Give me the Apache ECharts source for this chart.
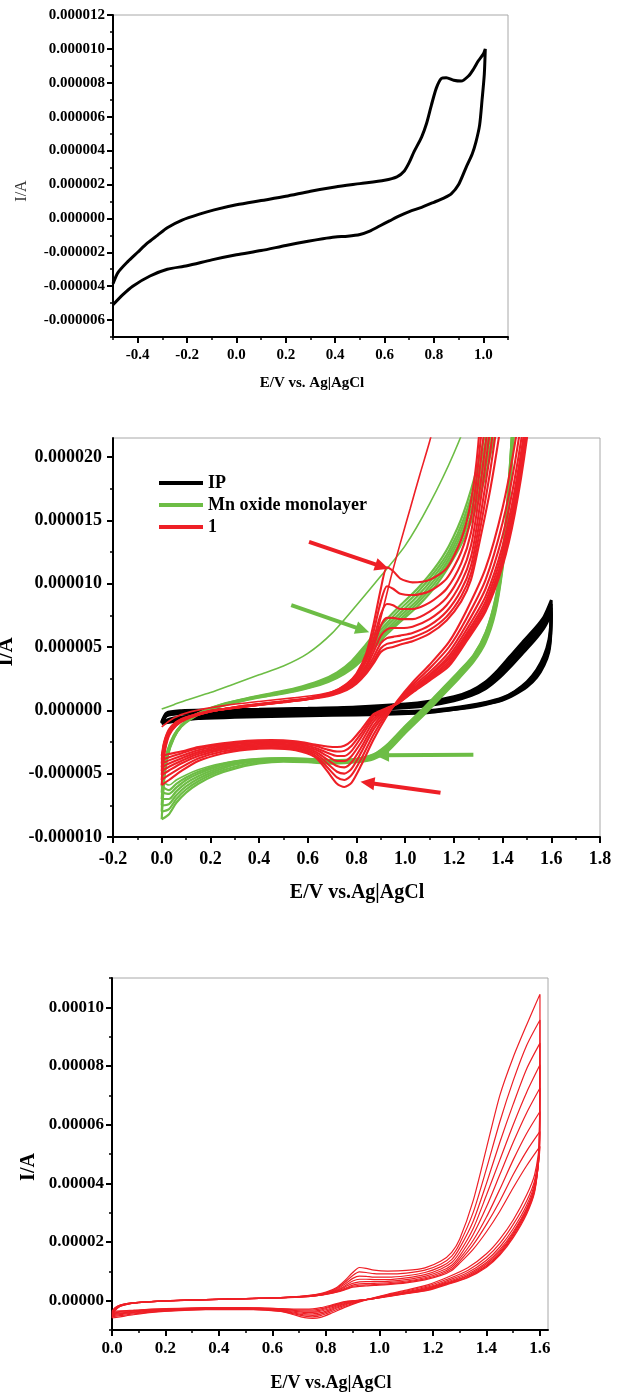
<!DOCTYPE html>
<html>
<head>
<meta charset="utf-8">
<script src="https://cdn.jsdelivr.net/npm/echarts@6/dist/echarts.min.js"></script>
<style>
html,body{margin:0;padding:0;background:#fff;}
#chart{width:619px;height:1392px;}
</style>
</head>
<body>
<div id="chart"></div>
<script>
// ---------- DATA (E in V, I in microampere; converted to A when plotted) ----------
// Panel 1: single CV
const cv1 = [[-0.5,-3.86],[-0.48,-3.2],[-0.44,-2.55],[-0.40,-2.0],[-0.36,-1.45],[-0.32,-1.0],[-0.28,-0.55],[-0.22,-0.1],[-0.15,0.25],[-0.09,0.5],[0.0,0.8],[0.1,1.05],[0.2,1.3],[0.3,1.6],[0.4,1.85],[0.5,2.05],[0.6,2.25],[0.65,2.45],[0.68,2.8],[0.70,3.3],[0.72,3.95],[0.75,4.8],[0.77,5.6],[0.79,6.7],[0.81,7.7],[0.83,8.25],[0.85,8.3],[0.88,8.15],[0.91,8.1],[0.94,8.4],[0.96,8.8],[0.98,9.3],[1.0,9.7],[1.008,10.0],
[1.004,8.5],[0.995,7.0],[0.985,5.5],[0.97,4.5],[0.955,3.8],[0.93,3.0],[0.90,2.0],[0.87,1.45],[0.84,1.2],[0.80,0.95],[0.75,0.65],[0.70,0.4],[0.66,0.15],[0.62,-0.15],[0.58,-0.45],[0.54,-0.75],[0.50,-0.95],[0.45,-1.05],[0.40,-1.1],[0.35,-1.2],[0.29,-1.35],[0.2,-1.6],[0.1,-1.9],[0.0,-2.15],[-0.1,-2.45],[-0.2,-2.8],[-0.28,-3.0],[-0.35,-3.4],[-0.42,-4.0],[-0.46,-4.5],[-0.5,-5.1]];

// Panel 2: IP (black) cycles
const ip0 = [[0,-0.9],[0.02,-0.2],[0.08,-0.02],[0.2,0.04],[0.4,0.1],[0.6,0.17],[0.8,0.28],[1.0,0.5],[1.1,0.72],[1.2,1.08],[1.27,1.55],[1.33,2.25],[1.38,3.15],[1.43,4.25],[1.48,5.35],[1.53,6.4],[1.57,7.4],[1.6,8.7],[1.598,7.0],[1.59,5.6],[1.57,4.3],[1.54,3.2],[1.5,2.25],[1.45,1.5],[1.4,1.0],[1.33,0.62],[1.25,0.35],[1.1,0.0],[0.9,-0.12],[0.7,-0.18],[0.5,-0.24],[0.3,-0.32],[0.15,-0.42],[0.05,-0.6],[0,-0.9]];
const ip1 = [[0,-0.95],[0.02,-0.28],[0.08,-0.1],[0.2,-0.03],[0.4,0.03],[0.6,0.1],[0.8,0.21],[1.0,0.43],[1.1,0.64],[1.2,1.0],[1.27,1.45],[1.33,2.1],[1.38,2.95],[1.43,4.0],[1.48,5.1],[1.53,6.15],[1.57,7.15],[1.6,8.4],[1.598,6.7],[1.59,5.3],[1.57,4.1],[1.54,3.05],[1.5,2.15],[1.45,1.45],[1.4,0.95],[1.33,0.58],[1.25,0.3],[1.1,-0.06],[0.9,-0.19],[0.7,-0.26],[0.5,-0.32],[0.3,-0.4],[0.15,-0.5],[0.05,-0.7],[0,-0.95]];
const ip2 = [[0,-1.0],[0.02,-0.36],[0.08,-0.18],[0.2,-0.1],[0.4,-0.04],[0.6,0.03],[0.8,0.14],[1.0,0.36],[1.1,0.56],[1.2,0.92],[1.27,1.35],[1.33,1.95],[1.38,2.75],[1.43,3.75],[1.48,4.85],[1.53,5.9],[1.57,6.9],[1.6,8.1],[1.598,6.4],[1.59,5.0],[1.57,3.9],[1.54,2.9],[1.5,2.05],[1.45,1.4],[1.4,0.9],[1.33,0.54],[1.25,0.26],[1.1,-0.12],[0.9,-0.26],[0.7,-0.33],[0.5,-0.4],[0.3,-0.48],[0.15,-0.58],[0.05,-0.8],[0,-1.0]];
const ip3 = [[0,-1.05],[0.02,-0.44],[0.08,-0.26],[0.2,-0.17],[0.4,-0.11],[0.6,-0.04],[0.8,0.07],[1.0,0.29],[1.1,0.48],[1.2,0.85],[1.27,1.25],[1.33,1.8],[1.38,2.55],[1.43,3.5],[1.48,4.6],[1.53,5.65],[1.57,6.65],[1.6,7.8],[1.598,6.1],[1.59,4.8],[1.57,3.7],[1.54,2.75],[1.5,1.95],[1.45,1.35],[1.4,0.85],[1.33,0.5],[1.25,0.22],[1.1,-0.18],[0.9,-0.33],[0.7,-0.4],[0.5,-0.48],[0.3,-0.56],[0.15,-0.66],[0.05,-0.9],[0,-1.05]];
const ip4 = [[0,-0.98],[0.02,-0.4],[0.08,-0.26],[0.2,-0.2],[0.4,-0.16],[0.6,-0.1],[0.8,0.0],[1.0,0.2],[1.1,0.38],[1.2,0.75],[1.27,1.15],[1.33,1.7],[1.38,2.45],[1.43,3.4],[1.48,4.45],[1.53,5.5],[1.57,6.5],[1.6,7.6],[1.598,5.9],[1.59,4.6],[1.57,3.55],[1.54,2.6],[1.5,1.85],[1.45,1.25],[1.4,0.8],[1.33,0.46],[1.25,0.18],[1.1,-0.1],[0.9,-0.2],[0.7,-0.24],[0.5,-0.27],[0.3,-0.32],[0.15,-0.42],[0.05,-0.65],[0,-0.98]];

// Panel 2: Mn oxide monolayer (green) cycles
const mn0 = [[0,0.1],[0.05,0.45],[0.1,0.8],[0.2,1.4],[0.3,2.1],[0.4,2.8],[0.5,3.5],[0.6,4.5],[0.7,6.1],[0.8,8.3],[0.9,10.6],[1.0,13.0],[1.1,16.3],[1.2,20.3],[1.25,23],[1.3,40],[1.46,40],[1.44,23],[1.42,17],[1.4,12.6],[1.37,8.9],[1.33,6.2],[1.28,4.4],[1.22,3.1],[1.15,1.7],[1.08,0.3],[1.0,-1.2],[0.93,-2.6],[0.87,-3.45],[0.8,-3.8],[0.7,-3.9],[0.6,-3.8],[0.5,-3.75],[0.4,-3.8],[0.3,-4.0],[0.22,-4.3],[0.15,-4.7],[0.1,-5.1],[0.06,-5.5],[0.03,-5.9],[0,-5.6]];
const mn1 = [[0,-6.0],[0.01,-4.4],[0.025,-3.1],[0.05,-1.95],[0.08,-1.18],[0.12,-0.55],[0.18,0.02],[0.25,0.5],[0.35,0.95],[0.45,1.35],[0.55,1.75],[0.65,2.35],[0.72,3.0],[0.78,3.9],[0.83,5.0],[0.88,6.2],[0.93,7.3],[0.98,8.3],[1.05,9.6],[1.12,11.2],[1.18,13.0],[1.24,15.6],[1.3,19.5],[1.35,24],[1.4,30],[1.43,40],[1.46,32],[1.44,22.5],[1.42,16.5],[1.4,12.3],[1.37,8.7],[1.33,6.1],[1.28,4.3],[1.22,3.0],[1.15,1.6],[1.08,0.2],[1.0,-1.3],[0.93,-2.7],[0.87,-3.5],[0.8,-3.85],[0.7,-3.95],[0.6,-3.85],[0.5,-3.8],[0.4,-3.85],[0.3,-4.05],[0.22,-4.4],[0.15,-4.85],[0.1,-5.3],[0.06,-5.8],[0.03,-6.3],[0,-6.0]];
const mn2 = [[0,-6.5],[0.01,-4.6],[0.025,-3.2],[0.05,-2.0],[0.08,-1.2],[0.12,-0.57],[0.18,0.0],[0.25,0.47],[0.35,0.92],[0.45,1.3],[0.55,1.7],[0.65,2.28],[0.72,2.9],[0.78,3.75],[0.83,4.8],[0.88,5.95],[0.93,7.0],[0.98,8.0],[1.05,9.3],[1.12,10.9],[1.18,12.6],[1.24,15.1],[1.3,18.8],[1.35,23],[1.4,29],[1.43,40],[1.46,31],[1.44,22],[1.42,16.2],[1.4,12.0],[1.37,8.5],[1.33,5.95],[1.28,4.2],[1.22,2.9],[1.15,1.5],[1.08,0.1],[1.0,-1.4],[0.93,-2.8],[0.87,-3.6],[0.8,-3.9],[0.7,-4.0],[0.6,-3.9],[0.5,-3.85],[0.4,-3.9],[0.3,-4.1],[0.22,-4.5],[0.15,-5.0],[0.1,-5.5],[0.06,-6.1],[0.03,-6.6],[0,-6.5]];
const mn3 = [[0,-7.0],[0.01,-4.8],[0.025,-3.3],[0.05,-2.05],[0.08,-1.22],[0.12,-0.6],[0.18,-0.02],[0.25,0.44],[0.35,0.9],[0.45,1.27],[0.55,1.65],[0.65,2.2],[0.72,2.8],[0.78,3.6],[0.83,4.6],[0.88,5.7],[0.93,6.75],[0.98,7.7],[1.05,9.0],[1.12,10.6],[1.18,12.3],[1.24,14.7],[1.3,18.2],[1.35,22.3],[1.4,28],[1.43,40],[1.46,30],[1.44,21.5],[1.42,15.9],[1.4,11.8],[1.37,8.3],[1.33,5.8],[1.28,4.1],[1.22,2.8],[1.15,1.4],[1.08,0.0],[1.0,-1.5],[0.93,-2.9],[0.87,-3.7],[0.8,-3.95],[0.7,-4.05],[0.6,-3.95],[0.5,-3.9],[0.4,-3.95],[0.3,-4.2],[0.22,-4.65],[0.15,-5.2],[0.1,-5.75],[0.06,-6.4],[0.03,-7.0],[0,-7.0]];
const mn4 = [[0,-7.5],[0.01,-5.0],[0.025,-3.4],[0.05,-2.1],[0.08,-1.25],[0.12,-0.62],[0.18,-0.04],[0.25,0.41],[0.35,0.88],[0.45,1.24],[0.55,1.6],[0.65,2.13],[0.72,2.7],[0.78,3.45],[0.83,4.4],[0.88,5.5],[0.93,6.5],[0.98,7.45],[1.05,8.7],[1.12,10.3],[1.18,12.0],[1.24,14.3],[1.3,17.6],[1.35,21.6],[1.4,27],[1.43,40],[1.46,29],[1.44,21],[1.42,15.6],[1.4,11.6],[1.37,8.1],[1.33,5.65],[1.28,4.0],[1.22,2.7],[1.15,1.3],[1.08,-0.1],[1.0,-1.6],[0.93,-3.0],[0.87,-3.75],[0.8,-4.0],[0.7,-4.1],[0.6,-4.0],[0.5,-3.95],[0.4,-4.0],[0.3,-4.3],[0.22,-4.8],[0.15,-5.4],[0.1,-6.0],[0.06,-6.7],[0.03,-7.4],[0,-7.5]];
const mn5 = [[0,-8.0],[0.01,-5.3],[0.025,-3.5],[0.05,-2.15],[0.08,-1.28],[0.12,-0.65],[0.18,-0.06],[0.25,0.38],[0.35,0.85],[0.45,1.2],[0.55,1.56],[0.65,2.07],[0.72,2.62],[0.78,3.35],[0.83,4.25],[0.88,5.3],[0.93,6.3],[0.98,7.2],[1.05,8.45],[1.12,10.0],[1.18,11.7],[1.24,13.9],[1.3,17.0],[1.35,20.9],[1.4,26],[1.43,40],[1.46,28],[1.44,20.5],[1.42,15.3],[1.4,11.4],[1.37,7.9],[1.33,5.5],[1.28,3.9],[1.22,2.6],[1.15,1.2],[1.08,-0.2],[1.0,-1.7],[0.93,-3.1],[0.87,-3.8],[0.8,-4.05],[0.7,-4.15],[0.6,-4.05],[0.5,-4.0],[0.4,-4.1],[0.3,-4.45],[0.22,-4.95],[0.15,-5.6],[0.1,-6.25],[0.06,-7.0],[0.03,-7.8],[0,-8.0]];
const mn6 = [[0,-8.6],[0.01,-5.6],[0.025,-3.6],[0.05,-2.2],[0.08,-1.3],[0.12,-0.68],[0.18,-0.08],[0.25,0.35],[0.35,0.82],[0.45,1.17],[0.55,1.52],[0.65,2.0],[0.72,2.55],[0.78,3.25],[0.83,4.1],[0.88,5.1],[0.93,6.1],[0.98,7.0],[1.05,8.2],[1.12,9.7],[1.18,11.4],[1.24,13.5],[1.3,16.5],[1.35,20.2],[1.4,25],[1.43,40],[1.46,27],[1.44,20],[1.42,15],[1.4,11.2],[1.37,7.7],[1.33,5.35],[1.28,3.8],[1.22,2.5],[1.15,1.1],[1.08,-0.3],[1.0,-1.8],[0.93,-3.2],[0.87,-3.85],[0.8,-4.1],[0.7,-4.2],[0.6,-4.1],[0.5,-4.05],[0.4,-4.2],[0.3,-4.6],[0.22,-5.1],[0.15,-5.8],[0.1,-6.5],[0.06,-7.3],[0.03,-8.2],[0,-8.6]];

// Compound 1 (red): first anodic scan (panel 2) and repeated cycles (panels 2 and 3)
const c1scan = [[0,-1.3],[0.05,-0.6],[0.12,-0.1],[0.25,0.35],[0.4,0.7],[0.55,1.0],[0.65,1.25],[0.72,1.6],[0.78,2.4],[0.83,3.6],[0.87,5.2],[0.9,7.3],[0.94,10.4],[0.98,13.2],[1.02,15.9],[1.06,18.6],[1.1,21.2],[1.13,23.5]];
const c1a = [[0,-5.9],[0.01,-3.6],[0.03,-2.0],[0.06,-1.2],[0.1,-0.7],[0.2,-0.1],[0.3,0.25],[0.4,0.5],[0.5,0.72],[0.6,0.95],[0.7,1.45],[0.76,2.1],[0.8,2.9],[0.84,4.5],[0.87,6.8],[0.9,9.6],[0.925,11.3],[0.95,11.0],[0.98,10.4],[1.03,10.1],[1.1,10.3],[1.17,11.2],[1.23,13.5],[1.27,16.5],[1.3,21.0],[1.35,34],[1.4,52],[1.45,70],[1.5,83],[1.55,94],[1.6,104.5],[1.597,54],[1.58,43],[1.55,36],[1.5,27.5],[1.45,21],[1.4,16],[1.33,11.2],[1.25,7.8],[1.18,5.4],[1.1,3.6],[1.03,2.2],[0.97,0.8],[0.92,-0.6],[0.87,-2.3],[0.82,-4.3],[0.78,-5.7],[0.75,-6.05],[0.72,-5.8],[0.68,-4.8],[0.63,-3.7],[0.55,-3.15],[0.45,-3.0],[0.35,-3.1],[0.25,-3.4],[0.15,-4.0],[0.08,-4.8],[0.03,-5.5],[0,-5.9]];
const c1b = [[0,-5.5],[0.01,-3.4],[0.03,-1.9],[0.06,-1.15],[0.1,-0.68],[0.2,-0.1],[0.3,0.24],[0.4,0.49],[0.5,0.7],[0.6,0.93],[0.7,1.4],[0.76,2.0],[0.8,2.7],[0.84,4.2],[0.87,6.2],[0.9,8.6],[0.925,9.8],[0.95,9.6],[0.98,9.2],[1.03,9.1],[1.1,9.4],[1.17,10.4],[1.23,12.5],[1.27,15.2],[1.3,19.5],[1.35,30],[1.4,45],[1.45,61],[1.5,75],[1.55,87],[1.6,95.7],[1.597,53],[1.58,41],[1.55,34],[1.5,26],[1.45,19.5],[1.4,14.8],[1.33,10.3],[1.25,7.2],[1.18,5.0],[1.1,3.3],[1.03,2.0],[0.97,0.75],[0.92,-0.4],[0.87,-1.9],[0.82,-3.8],[0.78,-5.1],[0.75,-5.5],[0.72,-5.3],[0.68,-4.5],[0.63,-3.55],[0.55,-3.05],[0.45,-2.9],[0.35,-3.0],[0.25,-3.25],[0.15,-3.8],[0.08,-4.5],[0.03,-5.1],[0,-5.5]];
const c1c = [[0,-5.1],[0.01,-3.2],[0.03,-1.8],[0.06,-1.1],[0.1,-0.65],[0.2,-0.09],[0.3,0.23],[0.4,0.47],[0.5,0.69],[0.6,0.92],[0.7,1.35],[0.76,1.9],[0.8,2.6],[0.84,3.9],[0.87,5.6],[0.9,7.6],[0.925,8.4],[0.95,8.3],[0.98,8.0],[1.03,8.0],[1.1,8.5],[1.17,9.6],[1.23,11.6],[1.27,14.0],[1.3,18.0],[1.35,27],[1.4,40],[1.45,54],[1.5,67],[1.55,79],[1.6,87.8],[1.597,52],[1.58,40],[1.55,32.5],[1.5,24.5],[1.45,18.3],[1.4,13.8],[1.33,9.6],[1.25,6.7],[1.18,4.6],[1.1,3.0],[1.03,1.85],[0.97,0.7],[0.92,-0.25],[0.87,-1.5],[0.82,-3.3],[0.78,-4.6],[0.75,-5.0],[0.72,-4.85],[0.68,-4.2],[0.63,-3.4],[0.55,-2.95],[0.45,-2.8],[0.35,-2.9],[0.25,-3.1],[0.15,-3.6],[0.08,-4.2],[0.03,-4.75],[0,-5.1]];
const c1d = [[0,-4.8],[0.01,-3.0],[0.03,-1.8],[0.06,-1.05],[0.1,-0.62],[0.2,-0.08],[0.3,0.22],[0.4,0.46],[0.5,0.68],[0.6,0.91],[0.7,1.3],[0.76,1.8],[0.8,2.45],[0.84,3.6],[0.87,5.0],[0.9,6.7],[0.925,7.3],[0.95,7.3],[0.98,7.2],[1.03,7.2],[1.1,7.8],[1.17,8.9],[1.23,10.8],[1.27,13.0],[1.3,16.5],[1.35,24.5],[1.4,36],[1.45,48],[1.5,60],[1.55,71],[1.6,80.4],[1.597,51],[1.58,39],[1.55,31.5],[1.5,23.5],[1.45,17.4],[1.4,13.0],[1.33,9.0],[1.25,6.3],[1.18,4.3],[1.1,2.8],[1.03,1.7],[0.97,0.65],[0.92,-0.1],[0.87,-1.2],[0.82,-2.9],[0.78,-4.1],[0.75,-4.5],[0.72,-4.4],[0.68,-3.9],[0.63,-3.25],[0.55,-2.85],[0.45,-2.7],[0.35,-2.8],[0.25,-3.0],[0.15,-3.45],[0.08,-4.0],[0.03,-4.45],[0,-4.8]];
const c1e = [[0,-4.5],[0.01,-2.9],[0.03,-1.7],[0.06,-1.0],[0.1,-0.6],[0.2,-0.07],[0.3,0.21],[0.4,0.45],[0.5,0.67],[0.6,0.9],[0.7,1.3],[0.76,1.75],[0.8,2.35],[0.84,3.4],[0.87,4.6],[0.9,5.9],[0.925,6.4],[0.95,6.5],[0.98,6.5],[1.03,6.6],[1.1,7.2],[1.17,8.3],[1.23,10.1],[1.27,12.1],[1.3,15.3],[1.35,22.5],[1.4,32],[1.45,43],[1.5,54],[1.55,64],[1.6,72.5],[1.597,50.5],[1.58,38.5],[1.55,31],[1.5,23],[1.45,16.8],[1.4,12.5],[1.33,8.6],[1.25,6.0],[1.18,4.1],[1.1,2.7],[1.03,1.6],[0.97,0.6],[0.92,0.0],[0.87,-0.9],[0.82,-2.5],[0.78,-3.6],[0.75,-4.0],[0.72,-4.0],[0.68,-3.6],[0.63,-3.1],[0.55,-2.75],[0.45,-2.6],[0.35,-2.7],[0.25,-2.9],[0.15,-3.3],[0.08,-3.8],[0.03,-4.2],[0,-4.5]];
const c1f = [[0,-4.2],[0.01,-2.7],[0.03,-1.6],[0.06,-1.0],[0.1,-0.58],[0.2,-0.06],[0.3,0.2],[0.4,0.44],[0.5,0.66],[0.6,0.89],[0.7,1.25],[0.76,1.7],[0.8,2.25],[0.84,3.2],[0.87,4.2],[0.9,5.3],[0.925,5.7],[0.95,5.8],[0.98,5.9],[1.03,6.1],[1.1,6.7],[1.17,7.8],[1.23,9.5],[1.27,11.4],[1.3,14.3],[1.35,20.5],[1.4,28.5],[1.45,38],[1.5,48],[1.55,57],[1.6,64.5],[1.597,50],[1.58,38],[1.55,30.5],[1.5,22.5],[1.45,16.3],[1.4,12.0],[1.33,8.3],[1.25,5.8],[1.18,3.9],[1.1,2.55],[1.03,1.5],[0.97,0.6],[0.92,0.05],[0.87,-0.65],[0.82,-2.1],[0.78,-3.2],[0.75,-3.6],[0.72,-3.6],[0.68,-3.35],[0.63,-2.95],[0.55,-2.65],[0.45,-2.5],[0.35,-2.6],[0.25,-2.8],[0.15,-3.15],[0.08,-3.6],[0.03,-3.95],[0,-4.2]];
const c1g = [[0,-3.9],[0.01,-2.6],[0.03,-1.6],[0.06,-0.95],[0.1,-0.56],[0.2,-0.05],[0.3,0.19],[0.4,0.43],[0.5,0.65],[0.6,0.88],[0.7,1.25],[0.76,1.65],[0.8,2.2],[0.84,3.0],[0.87,3.9],[0.9,4.9],[0.925,5.25],[0.95,5.35],[0.98,5.5],[1.03,5.75],[1.1,6.35],[1.17,7.4],[1.23,9.0],[1.27,10.8],[1.3,13.5],[1.35,19],[1.4,26],[1.45,34],[1.5,43],[1.55,51],[1.6,57.7],[1.597,49.5],[1.58,37.5],[1.55,30],[1.5,22],[1.45,15.9],[1.4,11.7],[1.33,8.0],[1.25,5.6],[1.18,3.7],[1.1,2.45],[1.03,1.45],[0.97,0.55],[0.92,0.1],[0.87,-0.45],[0.82,-1.8],[0.78,-2.8],[0.75,-3.2],[0.72,-3.25],[0.68,-3.1],[0.63,-2.8],[0.55,-2.55],[0.45,-2.42],[0.35,-2.5],[0.25,-2.7],[0.15,-3.0],[0.08,-3.4],[0.03,-3.7],[0,-3.9]];
const c1h = [[0,-3.6],[0.01,-2.5],[0.03,-1.5],[0.06,-0.9],[0.1,-0.55],[0.2,-0.04],[0.3,0.18],[0.4,0.42],[0.5,0.64],[0.6,0.87],[0.7,1.2],[0.76,1.6],[0.8,2.1],[0.84,2.9],[0.87,3.7],[0.9,4.6],[0.925,4.9],[0.95,5.0],[0.98,5.2],[1.03,5.45],[1.1,6.05],[1.17,7.1],[1.23,8.6],[1.27,10.3],[1.3,12.8],[1.35,17.5],[1.4,23.5],[1.45,30.5],[1.5,38.5],[1.55,46],[1.6,52.6],[1.597,49],[1.58,37],[1.55,29.5],[1.5,21.5],[1.45,15.5],[1.4,11.4],[1.33,7.8],[1.25,5.4],[1.18,3.5],[1.1,2.35],[1.03,1.4],[0.97,0.55],[0.92,0.15],[0.87,-0.3],[0.82,-1.5],[0.78,-2.4],[0.75,-2.8],[0.72,-2.9],[0.68,-2.85],[0.63,-2.7],[0.55,-2.45],[0.45,-2.35],[0.35,-2.4],[0.25,-2.6],[0.15,-2.9],[0.08,-3.25],[0.03,-3.45],[0,-3.6]];

// Annotation arrows in panel 2 ([E, I(uA)] tail -> head)
const arrowRedUp = [[0.605,13.3],[0.905,11.35]];
const arrowGreenUp = [[0.532,8.3],[0.825,6.35]];
const arrowGreenDown = [[1.28,-3.5],[0.905,-3.55]];
const arrowRedDown = [[1.145,-6.5],[0.845,-5.72]];

// Tick values
const p1xMajor = [-0.4,-0.2,0.0,0.2,0.4,0.6,0.8,1.0];
const p1xMinor = [-0.5,-0.3,-0.1,0.1,0.3,0.5,0.7,0.9,1.1];
const p1yMajor = [-0.000006,-0.000004,-0.000002,0,0.000002,0.000004,0.000006,0.000008,0.00001,0.000012];
const p1yMinor = [-0.000007,-0.000005,-0.000003,-0.000001,0.000001,0.000003,0.000005,0.000007,0.000009,0.000011];
const p2xMajor = [-0.2,0.0,0.2,0.4,0.6,0.8,1.0,1.2,1.4,1.6,1.8];
const p2xMinor = [-0.1,0.1,0.3,0.5,0.7,0.9,1.1,1.3,1.5,1.7];
const p2yMajor = [-0.00001,-0.000005,0,0.000005,0.00001,0.000015,0.00002];
const p2yMinor = [-0.0000075,-0.0000025,0.0000025,0.0000075,0.0000125,0.0000175];
const p3xMajor = [0.0,0.2,0.4,0.6,0.8,1.0,1.2,1.4,1.6];
const p3xMinor = [0.1,0.3,0.5,0.7,0.9,1.1,1.3,1.5];
const p3yMajor = [0,0.00002,0.00004,0.00006,0.00008,0.0001];
const p3yMinor = [-0.00001,0.00001,0.00003,0.00005,0.00007,0.00009,0.00011];

// ---------- CHART ----------
const UA = 1e-6;
const toA = arr => arr.map(p => [p[0], p[1] * UA]);
const FONT = '"Liberation Serif", "Times New Roman", serif';
const RED = '#ee1f26', GREEN = '#6dbd45', BLACK = '#000000';

function mainAxis(gi, pos, min, max, interval, majors, digits, fontSize, margin) {
  return {
    type: 'value', gridIndex: gi, position: pos, offset: 0, min: min, max: max, interval: interval,
    axisLine: {show: true, onZero: false, lineStyle: {color: '#000', width: 2}},
    axisTick: {show: true, inside: false, customValues: majors, length: 6, lineStyle: {color: '#000', width: 2}},
    axisLabel: {show: true, customValues: majors, margin: margin, formatter: v => {
        const ok = majors.some(m => Math.abs(m - v) < interval * 1e-3);
        return ok ? Number(v).toFixed(digits) : '';
      },
      fontFamily: FONT, fontWeight: 'bold', fontSize: fontSize, color: '#000'},
    splitLine: {show: false}, minorTick: {show: false}
  };
}
function minorAxis(gi, pos, min, max, interval, minors) {
  return {
    type: 'value', gridIndex: gi, position: pos, offset: 0, min: min, max: max, interval: interval,
    axisLine: {show: false, onZero: false},
    axisTick: {show: true, inside: false, customValues: minors, length: 3, lineStyle: {color: '#000', width: 1.5}},
    axisLabel: {show: false}, splitLine: {show: false}
  };
}

const xAxes = [
  mainAxis(0, 'bottom', -0.5, 1.1, 0.1, p1xMajor, 1, 15, 11),
  minorAxis(0, 'bottom', -0.5, 1.1, 0.1, p1xMinor),
  mainAxis(1, 'bottom', -0.2, 1.8, 0.2, p2xMajor, 1, 18, 13),
  minorAxis(1, 'bottom', -0.2, 1.8, 0.1, p2xMinor),
  mainAxis(2, 'bottom', 0, 1.63, 0.1, p3xMajor, 1, 17, 10),
  minorAxis(2, 'bottom', 0, 1.63, 0.1, p3xMinor)
];
const yAxes = [
  mainAxis(0, 'left', -0.000007, 0.000012, 0.000001, p1yMajor, 6, 15, 8),
  minorAxis(0, 'left', -0.000007, 0.000012, 0.000001, p1yMinor),
  mainAxis(1, 'left', -0.00001, 0.0000215, 0.000005, p2yMajor, 6, 18, 11),
  minorAxis(1, 'left', -0.00001, 0.0000215, 0.0000025, p2yMinor),
  mainAxis(2, 'left', -0.00001, 0.00011, 0.00001, p3yMajor, 5, 17, 8),
  minorAxis(2, 'left', -0.00001, 0.00011, 0.00001, p3yMinor)
];

function cvSeries(data, panel, color, width, name) {
  return {
    type: 'line', name: name, xAxisIndex: panel * 2, yAxisIndex: panel * 2,
    data: toA(data), showSymbol: false, symbol: 'none', smooth: 0.25, clip: true,
    color: color, itemStyle: {color: color},
    lineStyle: {color: color, width: width}, emphasis: {disabled: true}, silent: true
  };
}
function arrowSeries(arrow, color) {
  return {
    type: 'line', xAxisIndex: 2, yAxisIndex: 2, data: [], silent: true,
    markLine: {
      silent: true, animation: false, symbol: ['none', 'triangle'], symbolSize: [13, 14],
      label: {show: false}, lineStyle: {color: color, width: 4, type: 'solid'},
      emphasis: {disabled: true},
      data: [[{coord: [arrow[0][0], arrow[0][1] * UA]}, {coord: [arrow[1][0], arrow[1][1] * UA]}]]
    }
  };
}

const series = [];
series.push(cvSeries(cv1, 0, BLACK, 3, 'cv'));
[ip0, ip1, ip2, ip3, ip4].forEach(d => series.push(cvSeries(d, 1, BLACK, 2.8, 'IP')));
[mn0, mn1, mn2, mn3, mn4, mn5, mn6].forEach((d, i) => series.push(cvSeries(d, 1, GREEN, i === 0 ? 1.6 : 2.2, 'Mn oxide monolayer')));
[c1scan, c1a, c1b, c1c, c1d, c1e, c1f, c1g, c1h].forEach((d, i) => series.push(cvSeries(d, 1, RED, i === 0 ? 1.6 : 2.1, '1')));
[c1a, c1b, c1c, c1d, c1e, c1f, c1g, c1h].forEach(d => series.push(cvSeries(d, 2, RED, 1.2, '1')));
series.push(arrowSeries(arrowRedUp, RED));
series.push(arrowSeries(arrowGreenUp, GREEN));
series.push(arrowSeries(arrowGreenDown, GREEN));
series.push(arrowSeries(arrowRedDown, RED));

function title(text, x, y, size, bold, rotate, color) {
  return {
    type: 'text', x: x, y: y, rotation: rotate ? Math.PI / 2 : 0, silent: true,
    style: {text: text, font: (bold ? 'bold ' : '') + size + 'px ' + FONT,
      fill: color || '#000', align: 'center', verticalAlign: 'middle',
      textAlign: 'center', textVerticalAlign: 'middle'}
  };
}

const option = {
  animation: false,
  backgroundColor: '#ffffff',
  grid: [
    {left: 113, top: 15, width: 395, height: 322, show: true, borderColor: '#a8a8a8', borderWidth: 1, backgroundColor: 'transparent'},
    {left: 113, top: 438, width: 487, height: 399, show: true, borderColor: '#a8a8a8', borderWidth: 1, backgroundColor: 'transparent'},
    {left: 112, top: 978, width: 436, height: 352, show: true, borderColor: '#a8a8a8', borderWidth: 1, backgroundColor: 'transparent'}
  ],
  xAxis: xAxes,
  yAxis: yAxes,
  legend: {
    data: ['IP', 'Mn oxide monolayer', '1'], orient: 'vertical', left: 154, top: 469,
    icon: 'rect', itemWidth: 44, itemHeight: 4, itemGap: 4, selectedMode: false,
    textStyle: {fontFamily: FONT, fontWeight: 'bold', fontSize: 18, color: '#000'}
  },
  graphic: [
    title('I/A', 22, 191, 16, false, true, '#333'),
    title('E/V vs. Ag|AgCl', 312, 383, 15, true, false),
    title('I/A', 7, 652, 21, true, true),
    title('E/V vs.Ag|AgCl', 357, 893, 20, true, false),
    title('I/A', 29, 1167, 20, true, true),
    title('E/V vs.Ag|AgCl', 331, 1383, 18, true, false)
  ],
  series: series
};

const chart = echarts.init(document.getElementById('chart'), null, {renderer: 'canvas'});
chart.setOption(option);
</script>
</body>
</html>
